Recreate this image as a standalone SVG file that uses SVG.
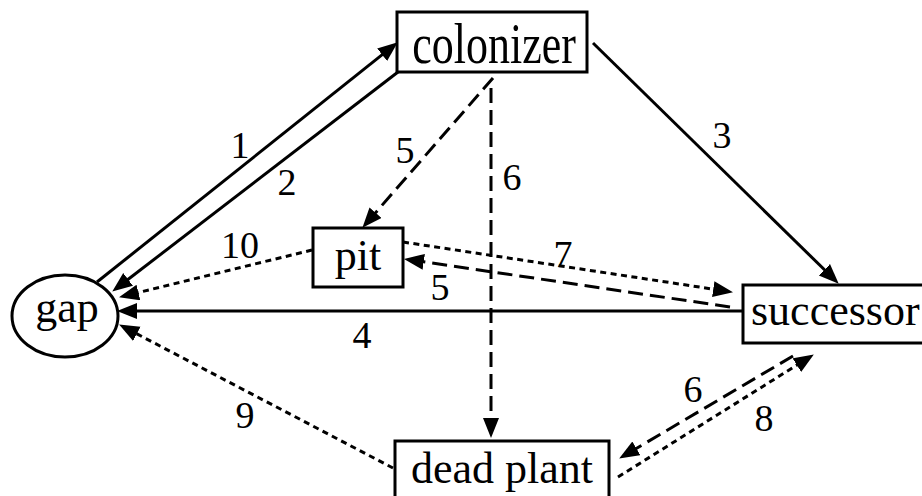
<svg xmlns="http://www.w3.org/2000/svg" width="922" height="496" viewBox="0 0 922 496">
<style>
.node{fill:#fff;stroke:#000;stroke-width:3}
.nt{font-family:"Liberation Serif","Times New Roman",serif;font-size:44px;fill:#000}
.lb{font-family:"Liberation Serif","Times New Roman",serif;font-size:38px;fill:#000;text-anchor:middle}
.e{fill:none;stroke:#000;stroke-width:3;marker-end:url(#ah)}
.dash{stroke-dasharray:15 7}
.dot{stroke-dasharray:6 4.5}
</style>
<defs>
<marker id="ah" markerUnits="userSpaceOnUse" markerWidth="22" markerHeight="18" refX="13" refY="8" orient="auto">
<path d="M0,0 L20,8 L0,16 z" fill="#000"/>
</marker>
</defs>
<rect width="922" height="496" fill="#fff"/>
<g id="connectors">
<line class="e" x1="97" y1="282" x2="392.3" y2="46.7"/>
<line class="e" x1="398" y1="72" x2="117.8" y2="287.3"/>
<line class="e" x1="593" y1="43" x2="833.7" y2="278.8"/>
<line class="e" x1="743" y1="311" x2="124" y2="311"/>
<line class="e dash" x1="493" y1="78" x2="367" y2="222.5"/>
<line class="e dash" x1="730" y1="307" x2="410.9" y2="259.9"/>
<line class="e dash" x1="491" y1="88" x2="491" y2="431"/>
<line class="e dash" x1="793" y1="356" x2="625.2" y2="455"/>
<line class="e dot" x1="403" y1="242" x2="726.1" y2="291.1"/>
<line class="e dot" x1="618" y1="477" x2="807.9" y2="358.2"/>
<line class="e dot" x1="393" y1="468" x2="125.3" y2="327.8"/>
<line class="e dot" x1="312" y1="250" x2="125.8" y2="295.6"/>
<text class="lb" x="240" y="158">1</text>
<text class="lb" x="287" y="195">2</text>
<text class="lb" x="722" y="148">3</text>
<text class="lb" x="362" y="348">4</text>
<text class="lb" x="405" y="163">5</text>
<text class="lb" x="440" y="300">5</text>
<text class="lb" x="512" y="190">6</text>
<text class="lb" x="693" y="402">6</text>
<text class="lb" x="563" y="267">7</text>
<text class="lb" x="764" y="431">8</text>
<text class="lb" x="245" y="428">9</text>
<text class="lb" x="240" y="258">10</text>
</g>
<g id="gap">
<ellipse class="node" cx="65" cy="316" rx="53" ry="41"/>
<text class="nt" x="67" y="322" text-anchor="middle">gap</text>
</g>
<g id="colonizer">
<rect class="node" x="397" y="12" width="190" height="60"/>
<text class="nt" transform="translate(494,63) scale(1,1.3)" x="0" y="0" text-anchor="middle">colonizer</text>
</g>
<g id="pit">
<rect class="node" x="313" y="228" width="90" height="59"/>
<text class="nt" x="358" y="270" text-anchor="middle">pit</text>
</g>
<g id="successor">
<rect class="node" x="743" y="285" width="186" height="58"/>
<text class="nt" x="751" y="325">successor</text>
</g>
<g id="dead_plant">
<rect class="node" x="395" y="441" width="214" height="70"/>
<text class="nt" x="502" y="483" text-anchor="middle">dead plant</text>
</g>
</svg>
